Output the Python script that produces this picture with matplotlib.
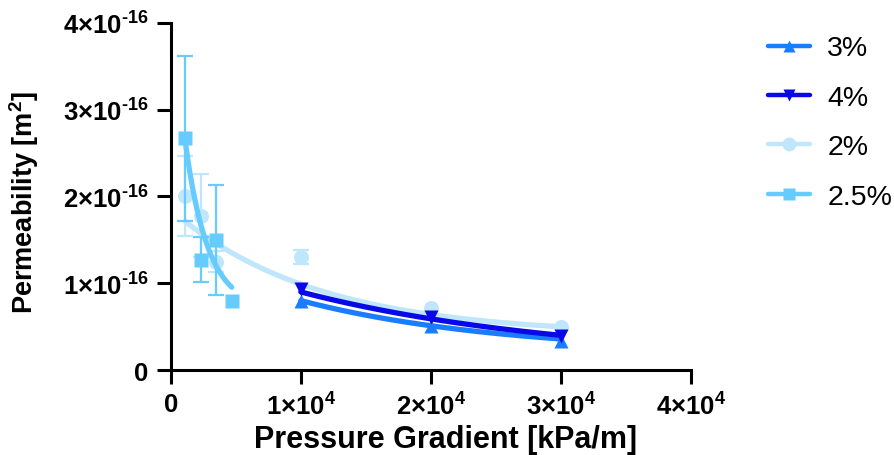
import numpy as np
import matplotlib
matplotlib.use('Agg')
import matplotlib.pyplot as plt
from matplotlib.lines import Line2D

plt.rcParams['font.family'] = ['Liberation Sans', 'DejaVu Sans']
plt.rcParams['mathtext.fontset'] = 'custom'
plt.rcParams['mathtext.rm'] = 'Liberation Sans:bold'
plt.rcParams['mathtext.bf'] = 'Liberation Sans:bold'
plt.rcParams['mathtext.it'] = 'Liberation Sans:italic'

# ---------------- data (permeability in units of 1e-16 m^2) ----------------
series_labels = ['3%', '4%', '2%', '2.5%']

x_3 = [10000, 20000, 30000]
y_3 = [0.79, 0.507, 0.338]

x_4 = [10000, 20000, 30000]
y_4 = [0.93, 0.607, 0.388]

x_2 = [1120, 2300, 3490, 10000, 20000, 30000]
y_2 = [2.01, 1.78, 1.25, 1.30, 0.71, 0.49]
e_2 = [0.46, 0.48, 0.12, 0.08, 0.0, 0.0]

x_25 = [1120, 2300, 3490, 4690]
y_25 = [2.67, 1.27, 1.50, 0.80]
e_25 = [0.95, 0.26, 0.63, 0.0]

# one-phase decay fits y = plateau + span*exp(-k*x)  (plateau, span, k)
fit_3 = (0.186, 1.163, 6.39e-5)
fit_4 = (0.099, 1.307, 4.9e-5)
fit_2 = (0.40, 1.45, 9.0e-5)
fit_25 = (0.708, 3.65, 5.75e-4)

x_ticks = [0, 10000, 20000, 30000, 40000]
x_ticklabels = ['0', r'$\mathbf{1{\times}10^{4}}$', r'$\mathbf{2{\times}10^{4}}$',
                r'$\mathbf{3{\times}10^{4}}$', r'$\mathbf{4{\times}10^{4}}$']
y_ticks = [0, 1, 2, 3, 4]
y_ticklabels = ['0', r'$\mathbf{1{\times}10^{\text{-}16}}$', r'$\mathbf{2{\times}10^{\text{-}16}}$',
                r'$\mathbf{3{\times}10^{\text{-}16}}$', r'$\mathbf{4{\times}10^{\text{-}16}}$']

col_3 = '#1a7dff'
col_4 = '#0808e8'
col_2 = '#bfe6fb'
col_25 = '#66ccff'

# ---------------- figure ----------------
fig = plt.figure(figsize=(8.94, 4.56), dpi=100)
ax = fig.add_axes([0.191, 0.1864, 0.582, 0.761])

def fit_curve(xs, p, n=200):
    xx = np.linspace(min(xs), max(xs), n)
    return xx, p[0] + p[1] * np.exp(-p[2] * xx)

def draw_errors(xs, ys, es, color, z):
    xs = np.asarray(xs); ys = np.asarray(ys); es = np.asarray(es)
    m = es > 0
    ax.errorbar(xs[m], ys[m], yerr=es[m], fmt='none', ecolor=color,
                elinewidth=1.6, capsize=5.5, capthick=1.6, zorder=z)

lw_fit = 3.8

# 2%
xx, yy = fit_curve(x_2, fit_2)
ax.plot(xx, yy, color=col_2, lw=lw_fit, solid_capstyle='round', zorder=2)
draw_errors(x_2, y_2, e_2, col_2, 2)
ax.plot(x_2, y_2, 'o', color=col_2, ms=10.8, mec='none', zorder=2.5)

# 3%
xx, yy = fit_curve(x_3, fit_3)
ax.plot(xx, yy, color=col_3, lw=lw_fit, solid_capstyle='round', zorder=3)
ax.plot(x_3, y_3, '^', color=col_3, ms=9.6, mec='none', zorder=3.5)

# 4%
xx, yy = fit_curve(x_4, fit_4)
ax.plot(xx, yy, color=col_4, lw=lw_fit, solid_capstyle='round', zorder=4)
ax.plot(x_4, y_4, 'v', color=col_4, ms=9.6, mec='none', zorder=4.5)

# 2.5%
xx, yy = fit_curve(x_25, fit_25)
ax.plot(xx, yy, color=col_25, lw=lw_fit, solid_capstyle='round', zorder=5)
draw_errors(x_25, y_25, e_25, col_25, 5)
ax.plot(x_25, y_25, 's', color=col_25, ms=9.6, mec='none', zorder=5.5)

# axes styling
ax.set_xlim(0, 40000)
ax.set_ylim(0, 4)
ax.set_xticks(x_ticks)
ax.set_xticklabels(x_ticklabels)
ax.set_yticks(y_ticks)
ax.set_yticklabels(y_ticklabels)
for s in ['top', 'right']:
    ax.spines[s].set_visible(False)
for s in ['left', 'bottom']:
    ax.spines[s].set_linewidth(2.2)
ax.tick_params(axis='both', direction='out', length=10, width=2.2,
               labelsize=18.5)
ax.tick_params(axis='y', pad=6)
ax.tick_params(axis='x', pad=6)
for lab in ax.get_xticklabels() + ax.get_yticklabels():
    lab.set_fontweight('bold')

ax.set_xlabel('Pressure Gradient [kPa/m]', fontsize=22, fontweight='bold')
ax.xaxis.set_label_coords(0.529, -0.155)
ax.set_ylabel(r'Permeability [m$^{\mathbf{2}}$]', fontsize=19.5, fontweight='bold')
ax.yaxis.set_label_coords(-0.249, 0.485)

# legend
handles = [
    Line2D([], [], color=col_3, lw=3.2, marker='^', ms=9, mec='none', solid_capstyle='round'),
    Line2D([], [], color=col_4, lw=3.2, marker='v', ms=9, mec='none', solid_capstyle='round'),
    Line2D([], [], color=col_2, lw=3.2, marker='o', ms=10, mec='none', solid_capstyle='round'),
    Line2D([], [], color=col_25, lw=3.2, marker='s', ms=9, mec='none', solid_capstyle='round'),
]
fig.legend(handles, series_labels, loc='upper left', bbox_to_anchor=(0.846, 0.945),
           frameon=False, fontsize=20.5, handlelength=1.47, handletextpad=0.62,
           labelspacing=0.82, numpoints=1, borderaxespad=0)

fig.savefig('out.png', dpi=100)
